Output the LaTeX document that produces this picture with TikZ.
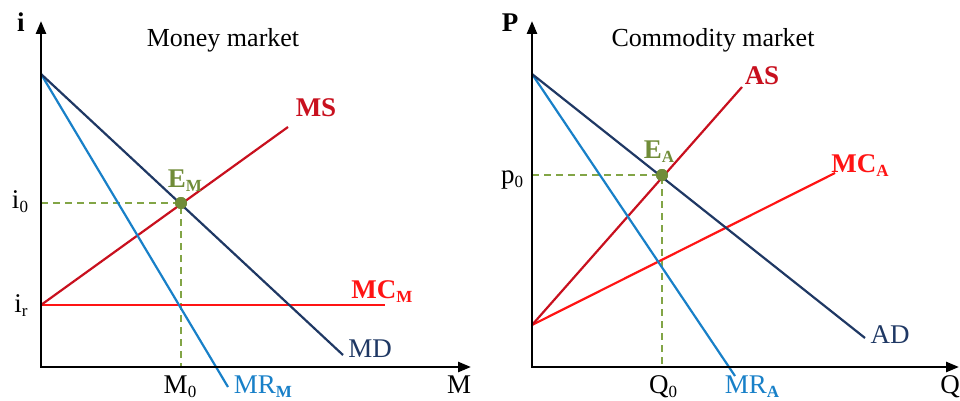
\documentclass[tikz,border=0pt]{standalone}
\usepackage{fontspec}
\setmainfont{Liberation Serif}
\usetikzlibrary{arrows.meta}
\definecolor{navy}{RGB}{31,56,100}
\definecolor{dred}{RGB}{200,16,30}
\definecolor{bred}{RGB}{255,20,20}
\definecolor{mrblue}{RGB}{24,128,200}
\definecolor{eqgreen}{RGB}{112,140,56}
\definecolor{dashgreen}{RGB}{130,165,70}
\newcommand\lowsub[1]{\raisebox{-4pt}{\fontsize{17}{17}\selectfont #1}}
\begin{document}
\begin{tikzpicture}[x=1pt,y=-1pt,
  axis/.style={line width=2.6pt,{Triangle[length=13pt,width=10pt]}-{Triangle[length=13pt,width=10pt]}},
  curve/.style={line width=2.2pt},
  guide/.style={dashgreen,line width=1.8pt,dash pattern=on 7pt off 5pt},
  lbl/.style={font=\fontsize{27}{30}\selectfont,anchor=base,inner sep=0pt},
  blbl/.style={lbl,font=\fontsize{27}{30}\selectfont\bfseries},
  title/.style={font=\fontsize{26}{30}\selectfont,anchor=base,inner sep=0pt},
  eqdot/.style={circle,fill=eqgreen,minimum size=12pt,inner sep=0pt}]
\useasboundingbox (0,0) rectangle (960,401);

% ---------------- Money market ----------------
\coordinate (O1) at (41,367);
\coordinate (Y1) at (41,21);
\coordinate (X1) at (471,367);
\coordinate (top1) at (41,74);
\coordinate (ir) at (41,305);
\coordinate (i0c) at (41,203);
\coordinate (M0c) at (181,367);
\coordinate (MDe) at (343,355);
\coordinate (MRMe) at (228,387);
\coordinate (MSe) at (288,127);
\coordinate (MCMe) at (385,305);
\node[eqdot] (EM) at (181,203) {};

\draw[guide] (i0c) -- (EM.center) -- (M0c);
\draw[curve,bred] (ir) -- (MCMe);
\draw[curve,dred] (ir) -- (MSe);
\draw[curve,mrblue] (top1) -- (MRMe);
\draw[curve,navy] (top1) -- (MDe);
\node[eqdot] at (EM) {};
\draw[axis] (Y1) -- (O1) -- (X1);

\node[blbl] (li) at (21,32) {i};
\node[title] (tM) at (223,47) {Money market};
\node[blbl,dred] (lMS) at (316,117) {MS};
\node[blbl,eqgreen] (lEM) at (185,187) {E\lowsub{M}};
\node[lbl] (li0) at (20,208) {i\lowsub{0}};
\node[blbl,bred] (lMCM) at (382,298) {MC\lowsub{M}};
\node[lbl] (lir) at (21,312) {i\lowsub{r}};
\node[lbl,navy] (lMD) at (370,357) {MD};
\node[lbl] (lM0) at (180,393) {M\lowsub{0}};
\node[lbl,mrblue] (lMRM) at (263,393) {MR\lowsub{\bfseries M}};
\node[lbl] (lM) at (459,393) {M};

% ---------------- Commodity market ----------------
\coordinate (O2) at (532,367);
\coordinate (Y2) at (532,21);
\coordinate (X2) at (959,367);
\coordinate (top2) at (532,74);
\coordinate (bot2) at (532,325);
\coordinate (p0c) at (532,175);
\coordinate (Q0c) at (662,367);
\coordinate (ADe) at (865,338);
\coordinate (MRAe) at (735,376);
\coordinate (ASe) at (742,87);
\coordinate (MCAe) at (835,173);
\node[eqdot] (EA) at (662,175) {};

\draw[guide] (p0c) -- (EA.center) -- (Q0c);
\draw[curve,bred] (bot2) -- (MCAe);
\draw[curve,dred] (bot2) -- (ASe);
\draw[curve,mrblue] (top2) -- (MRAe);
\draw[curve,navy] (top2) -- (ADe);
\node[eqdot] at (EA) {};
\draw[axis] (Y2) -- (O2) -- (X2);

\node[blbl] (lP) at (510,32) {P};
\node[title] (tC) at (713,47) {Commodity market};
\node[blbl,dred] (lAS) at (762,85) {AS};
\node[blbl,eqgreen] (lEA) at (659,158) {E\lowsub{A}};
\node[blbl,bred] (lMCA) at (860,172) {MC\lowsub{A}};
\node[lbl] (lp0) at (512,183) {p\lowsub{0}};
\node[lbl,navy] (lAD) at (890,343) {AD};
\node[lbl] (lQ0) at (663,393) {Q\lowsub{0}};
\node[lbl,mrblue] (lMRA) at (752,393) {MR\lowsub{\bfseries A}};
\node[lbl] (lQ) at (950,393) {Q};
\end{tikzpicture}
\end{document}
